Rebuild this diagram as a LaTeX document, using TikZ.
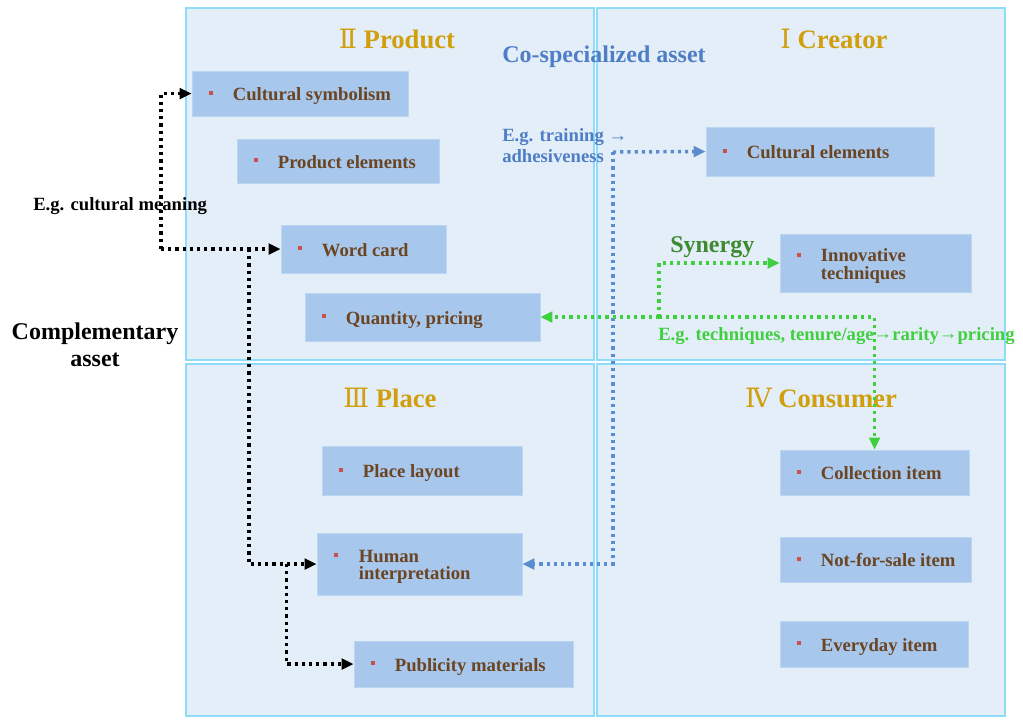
\documentclass[tikz,border=0pt]{standalone}
\usepackage{fontspec}
\setmainfont{Liberation Serif}
\newfontfamily\numfont{DejaVu Serif}
\usetikzlibrary{arrows.meta,calc,fit}
\definecolor{quadfill}{HTML}{E4EEF8}
\definecolor{quadline}{HTML}{8EDCF7}
\definecolor{boxfill}{HTML}{A7C8EC}
\definecolor{boxline}{HTML}{BBD6F1}
\definecolor{boxtext}{HTML}{6B4422}
\definecolor{bulletred}{HTML}{C9504D}
\definecolor{titlegold}{HTML}{D19F0E}
\definecolor{coblue}{HTML}{4E7EC6}
\definecolor{dotblue}{HTML}{5A8DCF}
\definecolor{dotgreen}{HTML}{3FCF3F}
\definecolor{syngreen}{HTML}{3E8A30}
\begin{document}
\begin{tikzpicture}[x=0.75pt,y=-0.75pt,
 quad/.style={draw=quadline,fill=quadfill,line width=1.5pt,inner sep=0pt},
 itembox/.style={draw=boxline,fill=boxfill,line width=0.6pt,inner sep=0pt},
 itemtext/.style={text=boxtext,font=\fontsize{14}{13}\selectfont\bfseries,inner sep=0pt,align=left},
 bulletdot/.style={fill=bulletred,draw=none,minimum size=3pt,inner sep=0pt},
 quadtitle/.style={text=titlegold,font=\fontsize{20}{20}\selectfont\bfseries,inner sep=0pt},
 dotline/.style={line width=2.6pt,dash pattern=on 2.4pt off 3pt},
 blackdots/.style={dotline,draw=black,-{Triangle[length=9pt,width=8pt]}},
 bluedots/.style={dotline,draw=dotblue,-{Triangle[length=9pt,width=8pt]}},
 greendots/.style={dotline,draw=dotgreen,-{Triangle[length=9pt,width=8pt]}},
 note/.style={font=\fontsize{14}{15.75}\selectfont\bfseries,inner sep=0pt,align=left}
]
\useasboundingbox (0,0) rectangle (1023,719);
\fill[white] (0,0) rectangle (1023,719);

% quadrants
\node[quad,fit={(186,8) (594,360)}] (q2) {};
\node[quad,fit={(597,8) (1005,360)}] (q1) {};
\node[quad,fit={(186,364) (594,716)}] (q3) {};
\node[quad,fit={(597,364) (1005,716)}] (q4) {};

% titles
\node[quadtitle] (t2) at (397,39) {{\numfont\mdseries Ⅱ} Product};
\node[quadtitle] (t1) at (834,39) {{\numfont\mdseries Ⅰ} Creator};
\node[quadtitle] (t3) at (390,398) {{\numfont\mdseries Ⅲ} Place};
\node[quadtitle] (t4) at (821,398) {{\numfont\mdseries Ⅳ} Consumer};

% item boxes
\node[itembox,fit={(192,71) (408,116)}] (cs) {};
\node[itembox,fit={(237,139) (439,183)}] (pe) {};
\node[itembox,fit={(281,225) (446,273)}] (wc) {};
\node[itembox,fit={(305,293) (540,341)}] (qp) {};
\node[itembox,fit={(706,127) (934,176)}] (ce) {};
\node[itembox,fit={(780,234) (971,292)}] (it) {};
\node[itembox,fit={(322,446) (522,495)}] (pl) {};
\node[itembox,fit={(317,533) (522,595)}] (hi) {};
\node[itembox,fit={(354,641) (573,687)}] (pm) {};
\node[itembox,fit={(780,450) (969,495)}] (ci) {};
\node[itembox,fit={(780,537) (971,582)}] (ns) {};
\node[itembox,fit={(780,621) (968,667)}] (ei) {};

% bullets and texts (single line)
\foreach \b/\t [count=\i] in {cs/Cultural symbolism, pe/Product elements, wc/Word card, qp/{Quantity, pricing}, ce/Cultural elements, pl/Place layout, pm/Publicity materials, ci/Collection item, ns/Not-for-sale item, ei/Everyday item}{
  \node[bulletdot] (bu\i) at ($(\b.west)+(19,-1)$) {};
  \node[itemtext,anchor=mid west] (tx\i) at ($(\b.west)+(41,4)$) {\t};
}
% two-line items
\node[bulletdot] (bu11) at ($(it.north west)+(19,21)$) {};
\node[itemtext,anchor=west] (tx11) at ($(it.west)+(41,3)$) {Innovative\\techniques};
\node[bulletdot] (bu12) at ($(hi.north west)+(19,22)$) {};
\node[itemtext,anchor=west] (tx12) at ($(hi.west)+(42,3)$) {Human\\interpretation};

% labels
\node[text=coblue,font=\fontsize{18}{18}\selectfont\bfseries,inner sep=0pt] (cosp) at (604,57) {Co-specialized asset};
\node[note,text=coblue,anchor=north west] (egt) at (502,128) {E.g. training {\mdseries →}\\adhesiveness};
\node[note,text=black,anchor=mid west] (egc) at (33,207) {E.g. cultural meaning};
\node[text=black,font=\fontsize{18}{20}\selectfont\bfseries,inner sep=0pt,align=center] (comp) at (95,345) {Complementary\\asset};
\node[text=syngreen,font=\fontsize{18}{18}\selectfont\bfseries,inner sep=0pt,anchor=mid west] (syn) at (670,249) {Synergy};
\node[note,text=dotgreen,anchor=mid west] (egg) at (658,337) {E.g. techniques, tenure/age\raisebox{0.5pt}{\mdseries\fontsize{14}{14}\selectfont →}rarity\raisebox{0.5pt}{\mdseries\fontsize{14}{14}\selectfont →}pricing};

% black connectors
\coordinate (jb) at (161,249);
\coordinate (jb2) at (249,249);
\coordinate (jb3) at ($(hi.west)+(-30,0)$);
\draw[blackdots] (jb) |- (cs.west);
\draw[blackdots] (jb) -- (wc.west);
\draw[blackdots] (jb2) |- (hi.west);
\draw[blackdots] (jb3) |- (pm.west);

% blue connectors
\coordinate (jbl) at (613,152);
\draw[bluedots] (jbl) -- (ce.west);
\draw[bluedots] (jbl) |- (hi.east);

% green connectors
\coordinate (jg) at (659,317);
\draw[greendots] (jg) -- (qp.east);
\draw[greendots] (jg) |- (it.west);
\draw[greendots] (jg) -| (ci.north);
\end{tikzpicture}
\end{document}
